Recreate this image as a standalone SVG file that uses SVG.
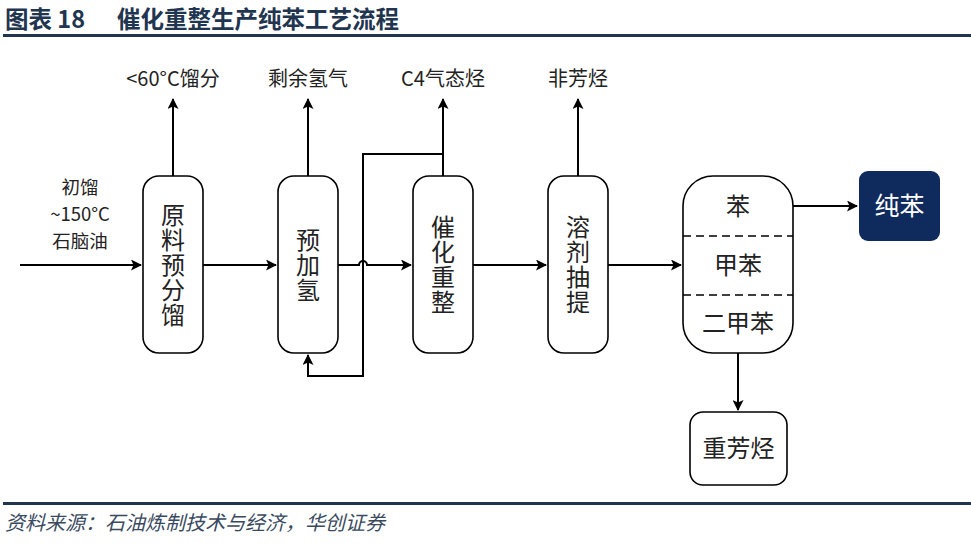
<svg xmlns="http://www.w3.org/2000/svg" width="971" height="546" viewBox="0 0 971 546">
<defs>
<marker id="ah" markerWidth="11" markerHeight="11" refX="10" refY="5.5" orient="auto" markerUnits="userSpaceOnUse" viewBox="0 0 11 11">
<path d="M0,0 L11,5.5 L0,11 L2.5,5.5 Z" fill="#000"/>
</marker>
<style>
.node{fill:#fff;stroke:#000;stroke-width:1.6}
.t{font-family:"Noto Sans CJK SC","Noto Sans",sans-serif;fill:#222;text-anchor:middle}
.big{font-size:24px}
.vt{font-size:24px;writing-mode:tb;letter-spacing:1px}
.lab{font-size:20px}
.ln{fill:none;stroke:#000;stroke-width:2}
</style>
</defs>
<rect width="971" height="546" fill="#fff"/>
<text x="5" y="28" font-family="'Noto Sans CJK SC','Liberation Sans',sans-serif" font-size="23.5" font-weight="bold" fill="#1f3550">图表 18<tspan x="117">催化重整生产纯苯工艺流程</tspan></text>
<rect x="3" y="34" width="968" height="3" fill="#1f3550"/>
<rect x="3" y="502" width="968" height="3" fill="#1f3550"/>
<text x="5" y="530" font-family="'Noto Sans CJK SC',sans-serif" font-size="20" font-style="italic" fill="#3a4a5e">资料来源：石油炼制技术与经济，华创证券</text>

<g id="connectors">
<path class="ln" d="M20,265 H141" marker-end="url(#ah)"/>
<path class="ln" d="M203,265 H276" marker-end="url(#ah)"/>
<path class="ln" d="M338,265 H359 A4,4 0 0 1 367,265 H411" marker-end="url(#ah)"/>
<path class="ln" d="M473,265 H546" marker-end="url(#ah)"/>
<path class="ln" d="M608,265 H681" marker-end="url(#ah)"/>
<path class="ln" d="M793,206 H857" marker-end="url(#ah)"/>
<path class="ln" d="M738,353 V410" marker-end="url(#ah)"/>
<path class="ln" d="M173,176 V99" marker-end="url(#ah)"/>
<path class="ln" d="M308,176 V99" marker-end="url(#ah)"/>
<path class="ln" d="M443,176 V99" marker-end="url(#ah)"/>
<path class="ln" d="M578,176 V99" marker-end="url(#ah)"/>
<path class="ln" d="M443,154 H363 V376 H308 V355" marker-end="url(#ah)"/>
</g>

<g id="labels">
<text class="t" font-size="18.5" x="80" y="194">初馏<tspan x="80" dy="27">~150°C</tspan><tspan x="80" dy="27">石脑油</tspan></text>
<text class="t lab" x="173" y="86">&lt;60°C馏分</text>
<text class="t lab" x="308" y="86">剩余氢气</text>
<text class="t lab" x="443" y="86">C4气态烃</text>
<text class="t lab" x="578" y="86">非芳烃</text>
</g>

<g id="n1">
<rect class="node" x="143" y="176" width="60" height="177" rx="16"/>
<text class="t vt" x="173" y="265">原料预分馏</text>
</g>
<g id="n2">
<rect class="node" x="278" y="176" width="60" height="177" rx="16"/>
<text class="t vt" x="308" y="265">预加氢</text>
</g>
<g id="n3">
<rect class="node" x="413" y="176" width="60" height="177" rx="16"/>
<text class="t vt" x="443" y="265">催化重整</text>
</g>
<g id="n4">
<rect class="node" x="548" y="176" width="60" height="177" rx="16"/>
<text class="t vt" x="578" y="265">溶剂抽提</text>
</g>
<g id="n5">
<rect class="node" x="683" y="176" width="110" height="177" rx="30"/>
<line x1="683" y1="236" x2="793" y2="236" stroke="#000" stroke-width="1.6" stroke-dasharray="8,5"/>
<line x1="683" y1="295" x2="793" y2="295" stroke="#000" stroke-width="1.6" stroke-dasharray="8,5"/>
<text class="t big" x="738" y="215">苯</text>
<text class="t big" x="738" y="274">甲苯</text>
<text class="t big" x="738" y="332">二甲苯</text>
</g>
<g id="n6">
<rect x="859" y="171" width="81" height="70" rx="9" fill="#0f2a5c"/>
<text class="t" x="899.5" y="215" font-size="25" style="fill:#fff">纯苯</text>
</g>
<g id="n7">
<rect class="node" x="690" y="412" width="97" height="73" rx="13"/>
<text class="t big" x="738.5" y="457">重芳烃</text>
</g>
</svg>
